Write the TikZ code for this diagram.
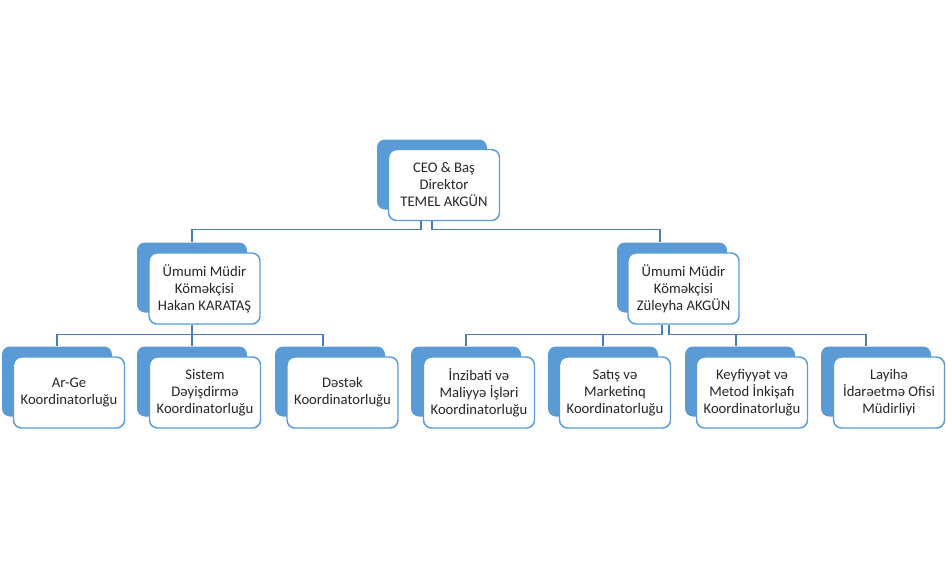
\documentclass[tikz,border=0pt]{standalone}
\usepackage{fontspec}
\setmainfont{Carlito}
\usepackage{tikz}
\usetikzlibrary{calc}
\definecolor{boxblue}{HTML}{5B9BD5}
\definecolor{lineblue}{HTML}{4A7EB0}
\definecolor{txtgray}{HTML}{262626}
\tikzset{
  backbox/.style={draw=none,fill=boxblue,rounded corners=6pt,minimum width=82.5pt,minimum height=52.5pt,inner sep=0pt},
  frontbox/.style={draw=boxblue,line width=1.1pt,fill=white,rounded corners=6pt,minimum width=83.25pt,minimum height=53.25pt,inner sep=1pt,align=center,text=txtgray,font=\fontsize{11}{12.75}\selectfont},
  conn/.style={draw=lineblue,line width=1.1pt}
}
\begin{document}
\begin{tikzpicture}[x=0.75pt,y=0.75pt,yscale=-1,xscale=1]
\useasboundingbox (0,0) rectangle (946,565);
%Shape: Rounded Rect [ceo]
\node[backbox] (ceob) at (432,174.5) {};
\node[frontbox] (ceo) at (444,185) {CEO \& Baş\\Direktor\\TEMEL AKGÜN};
%Shape: Rounded Rect [managers]
\node[backbox] (mgrLb) at (192,277.5) {};
\node[frontbox] (mgrL) at (204.5,288.5) {Ümumi Müdir\\Köməkçisi\\Hakan KARATAŞ};
\node[backbox] (mgrRb) at (672,277.5) {};
\node[frontbox] (mgrR) at (683.5,288.5) {Ümumi Müdir\\Köməkçisi\\Züleyha AKGÜN};
%Shape: Rounded Rect [coordinators]
\node[backbox] (argeb) at (57,381.5) {};
\node[frontbox] (arge) at (69,392.5) {Ar-Ge\\Koordinatorluğu};
\node[backbox] (sistemb) at (192,381.5) {};
\node[frontbox] (sistem) at (205,392.5) {Sistem\\Dəyişdirmə\\Koordinatorluğu};
\node[backbox] (destekb) at (330,381.5) {};
\node[frontbox] (destek) at (342.5,392.5) {Dəstək\\Koordinatorluğu};
\node[backbox] (inzibatib) at (466,381.5) {};
\node[frontbox] (inzibati) at (479,392.5) {İnzibati və\\Maliyyə İşləri\\Koordinatorluğu};
\node[backbox] (satisb) at (603,381.5) {};
\node[frontbox] (satis) at (615,392.5) {Satış və\\Marketinq\\Koordinatorluğu};
\node[backbox] (keyfb) at (740,381.5) {};
\node[frontbox] (keyf) at (752,392.5) {Keyfiyyət və\\Metod İnkişafı\\Koordinatorluğu};
\node[backbox] (layiheb) at (876,381.5) {};
\node[frontbox] (layihe) at (889,392.5) {Layihə\\İdarəetmə Ofisi\\Müdirliyi};
%Straight Lines [id:ceo]
\draw[conn] ($(ceob.center |- ceo.south)+(-11,0)$) -- ++(0,8) -| (mgrLb.north);
\draw[conn] (ceob.center |- ceo.south) -- ++(0,8) -| ($(mgrRb.north)+(-12,0)$);
%Straight Lines [id:left]
\draw[conn] (mgrLb.center |- mgrL.south) -- ++(0,10) -| (argeb.north);
\draw[conn] (mgrLb.center |- mgrL.south) -- ++(0,10) -| (sistemb.north);
\draw[conn] (mgrLb.center |- mgrL.south) -- ++(0,10) -| ($(destekb.north)+(-7,0)$);
%Straight Lines [id:right]
\draw[conn] ($(mgrRb.center |- mgrR.south)+(-10,0)$) -- ++(0,10) -| (inzibatib.north);
\draw[conn] ($(mgrRb.center |- mgrR.south)+(-10,0)$) -- ++(0,10) -| (satisb.north);
\draw[conn] ($(mgrRb.center |- mgrR.south)+(-3,0)$) -- ++(0,10) -| ($(keyfb.north)+(-4,0)$);
\draw[conn] ($(mgrRb.center |- mgrR.south)+(-3,0)$) -- ++(0,10) -| ($(layiheb.north)+(-10,0)$);
\end{tikzpicture}
\end{document}
